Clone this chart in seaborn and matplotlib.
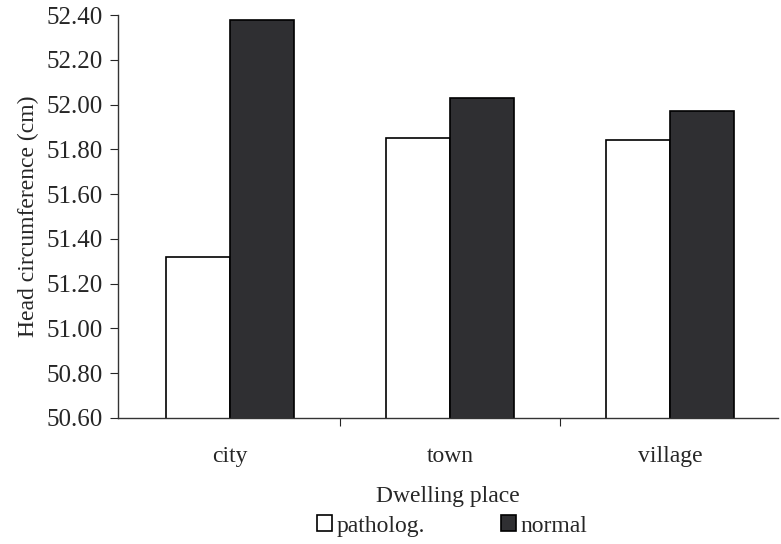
import pandas as pd
import numpy as np
import seaborn as sns
import matplotlib.pyplot as plt
from matplotlib.ticker import FixedLocator

places = ["city", "town", "village"]
groups = ["patholog.", "normal"]
patholog_vals = [51.32, 51.85, 51.84]
normal_vals = [52.38, 52.03, 51.97]
yticks = [50.60, 50.80, 51.00, 51.20, 51.40, 51.60, 51.80, 52.00, 52.20, 52.40]

df = pd.DataFrame({
    "place": places * 2,
    "group": [groups[0]] * 3 + [groups[1]] * 3,
    "value": patholog_vals + normal_vals,
})

sns.set_style("white")
plt.rcParams["font.family"] = ["Liberation Serif", "DejaVu Serif"]
fs = 17

fig = plt.figure(figsize=(7.81, 5.44), dpi=100)
ax = fig.add_axes([0.151, 0.232, 0.845, 0.74])

sns.barplot(data=df, x="place", y="value", hue="group", order=places,
            hue_order=groups, palette=["white", "#2e2e33"], width=0.58,
            edgecolor="black", linewidth=1.2, ax=ax, legend=True)

ax.set_ylim(50.60, 52.40)
ax.set_xlim(-0.51, 2.49)
ax.set_yticks(yticks)
ax.set_yticklabels([f"{t:.2f}" for t in yticks], fontsize=18)
ax.tick_params(axis="y", direction="out", length=6, width=0.8, left=True, pad=5)
ax.tick_params(axis="x", which="major", length=0, labelsize=fs, pad=20)
ax.xaxis.set_minor_locator(FixedLocator([0.5, 1.5]))
ax.tick_params(axis="x", which="minor", direction="out", length=6, width=0.8, bottom=True)

for side in ["top", "right"]:
    ax.spines[side].set_visible(False)
for side in ["left", "bottom"]:
    ax.spines[side].set_color("#333333")
    ax.spines[side].set_linewidth(1.0)

ax.set_xlabel("Dwelling place", fontsize=fs, labelpad=14)
ax.set_ylabel("Head circumference (cm)", fontsize=fs, labelpad=5)

handles, labels = ax.get_legend_handles_labels()
ax.get_legend().remove()
fig.legend(handles, labels, loc="center", bbox_to_anchor=(0.579, 0.033),
           ncol=2, frameon=False, fontsize=fs, handlelength=0.65,
           handleheight=0.65, handletextpad=0.2, columnspacing=3.2,
           borderpad=0)

fig.savefig("out.png", dpi=100)
